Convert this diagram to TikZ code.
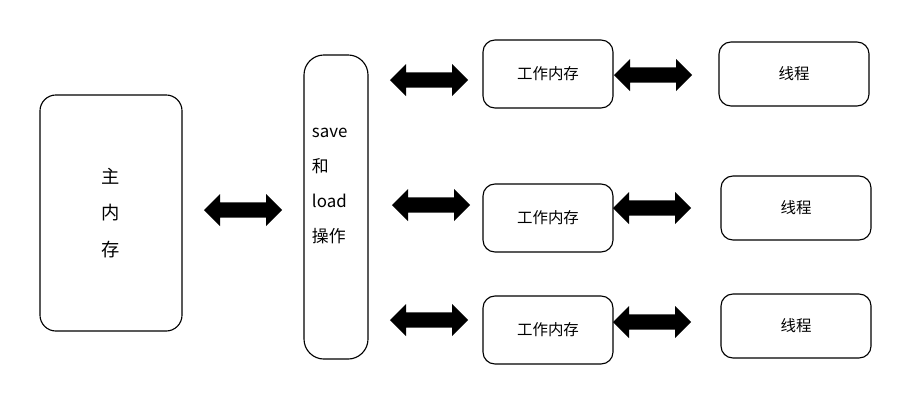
\documentclass[tikz,border=0pt]{standalone}
\usepackage{fontspec}
\setmainfont{Noto Sans CJK SC}
\usetikzlibrary{shapes,shapes.arrows,positioning,calc}

\begin{document}
\begin{tikzpicture}[x=0.025cm,y=-0.025cm]
\tikzstyle{box}=[draw=black,rectangle,rounded corners=3mm,thick,font=\fontsize{11}{13}\selectfont]
\tikzstyle{work}=[box,minimum width=3.25cm,minimum height=1.7cm]
\tikzstyle{thread}=[box,minimum width=3.75cm,minimum height=1.6cm]
\tikzstyle{dbl}=[fill=black,double arrow,minimum height=1.95cm,minimum width=0.8cm,double arrow head extend=0.12cm,inner sep=0.1cm]
\useasboundingbox (0,0) rectangle (907,404);
\node[box,minimum width=3.55cm,minimum height=5.9cm,rounded corners=4mm,align=center,font=\fontsize{13}{26}\selectfont] (main) at (111,213) {主\\内\\存};
\node[box,minimum width=1.6cm,minimum height=7.6cm,rounded corners=5mm] (mid) at (336,207) {};
\node[align=left,text width=1.3cm,font=\fontsize{12}{25}\selectfont] (ops) at (338,186) {save\\和\\load\\操作};
\node[work] (w1) at (548,74) {工作内存};
\node[work] (w2) at (548,218) {工作内存};
\node[work] (w3) at (548,330) {工作内存};
\node[thread] (t1) at (794,74) {线程};
\node[thread] (t2) at (796,208) {线程};
\node[thread] (t3) at (796,326) {线程};
\node[dbl] (a0) at ($(main.east)!0.5!(mid.west)$) {};
\node[dbl] (a1) at (429,80) {};
\node[dbl] (a2) at (431,205) {};
\node[dbl] (a3) at (429,320) {};
\node[dbl] (b1) at (653,75) {};
\node[dbl] (b2) at (652,208) {};
\node[dbl] (b3) at (652,322) {};
\end{tikzpicture}
\end{document}
